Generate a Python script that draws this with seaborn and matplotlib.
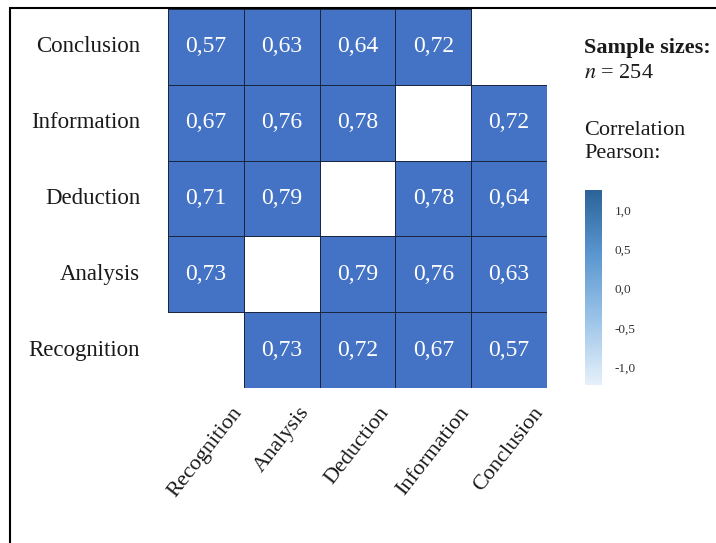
import numpy as np
import pandas as pd
import seaborn as sns
import matplotlib
matplotlib.use("Agg")
import matplotlib.pyplot as plt
from matplotlib.colors import ListedColormap, LinearSegmentedColormap, Normalize, to_rgba
from matplotlib.colorbar import ColorbarBase
from matplotlib.lines import Line2D

# data
row_labels = ["Conclusion", "Information", "Deduction", "Analysis", "Recognition"]
col_labels = ["Recognition", "Analysis", "Deduction", "Information", "Conclusion"]
conclusion = [0.57, 0.63, 0.64, 0.72, np.nan]
information = [0.67, 0.76, 0.78, np.nan, 0.72]
deduction = [0.71, 0.79, np.nan, 0.78, 0.64]
analysis = [0.73, np.nan, 0.79, 0.76, 0.63]
recognition = [np.nan, 0.73, 0.72, 0.67, 0.57]
cbar_ticks = [-1.0, -0.5, 0.0, 0.5, 1.0]
n_sample = 254

corr = pd.DataFrame([conclusion, information, deduction, analysis, recognition],
                    index=row_labels, columns=col_labels)
# comma decimal labels
labels = corr.map(lambda v: "" if pd.isna(v) else f"{v:.2f}".replace(".", ","))

sns.set_style("white")
plt.rcParams["font.family"] = ["Liberation Serif", "DejaVu Serif"]
plt.rcParams["mathtext.fontset"] = "stix"

fig = plt.figure(figsize=(7.16, 5.43), dpi=100)
ax = fig.add_axes([168 / 716, 1 - 388 / 543, 379 / 716, 379 / 543])

edge = "#1b2640"
sns.heatmap(corr, ax=ax, cmap=ListedColormap(["#4472C4"]), cbar=False,
            annot=labels.values, fmt="", linewidths=0.6, linecolor=edge,
            annot_kws={"color": "white", "fontsize": 17})

# no outline around the empty cells
mesh = ax.collections[0]
missing = corr.isna().values.ravel()
mesh.set_edgecolor([(0, 0, 0, 0) if m else to_rgba(edge) for m in missing])
mesh.set_clip_on(True)

ax.tick_params(length=0)
ax.set_yticklabels(row_labels, rotation=0, fontsize=16.5, color="#1a1a1a")
ax.tick_params(axis="y", pad=20)
ax.set_xticklabels(col_labels, rotation=52, ha="center", va="top",
                   fontsize=16, color="#1a1a1a")
ax.tick_params(axis="x", pad=11)
ax.set_xlabel("")
ax.set_ylabel("")

# colour bar
cax = fig.add_axes([585 / 716, 1 - 385 / 543, 17 / 716, 195 / 543])
cb_cmap = LinearSegmentedColormap.from_list(
    "pearson", ["#e6f0fa", "#9cc4e8", "#5b97d0", "#2b6399"])
cb = ColorbarBase(cax, cmap=cb_cmap, norm=Normalize(vmin=-1.22, vmax=1.25),
                  ticks=cbar_ticks)
cb.outline.set_visible(False)
cb.set_ticklabels([f"{t:.1f}".replace(".", ",") for t in cbar_ticks])
cax.tick_params(length=0, labelsize=9.5, pad=9, colors="#333333")

# side text
fig.text(584 / 716, 1 - 48 / 543, "Sample sizes:", fontsize=16,
         fontweight="bold", va="center", ha="left", color="#1a1a1a")
fig.text(584 / 716, 1 - 73 / 543, f"$n$ = {n_sample}", fontsize=16,
         va="center", ha="left", color="#1a1a1a")
fig.text(584 / 716, 1 - 130 / 543, "Correlation", fontsize=16,
         va="center", ha="left", color="#1a1a1a")
fig.text(584 / 716, 1 - 154 / 543, "Pearson:", fontsize=16,
         va="center", ha="left", color="#1a1a1a")

# frame around the figure
fig.add_artist(Line2D([10 / 716, 1.0], [1 - 8 / 543, 1 - 8 / 543],
                      transform=fig.transFigure, color="black", lw=1.5))
fig.add_artist(Line2D([10 / 716, 10 / 716], [0.0, 1 - 8 / 543],
                      transform=fig.transFigure, color="black", lw=1.5))

fig.savefig("out.png", dpi=100)
